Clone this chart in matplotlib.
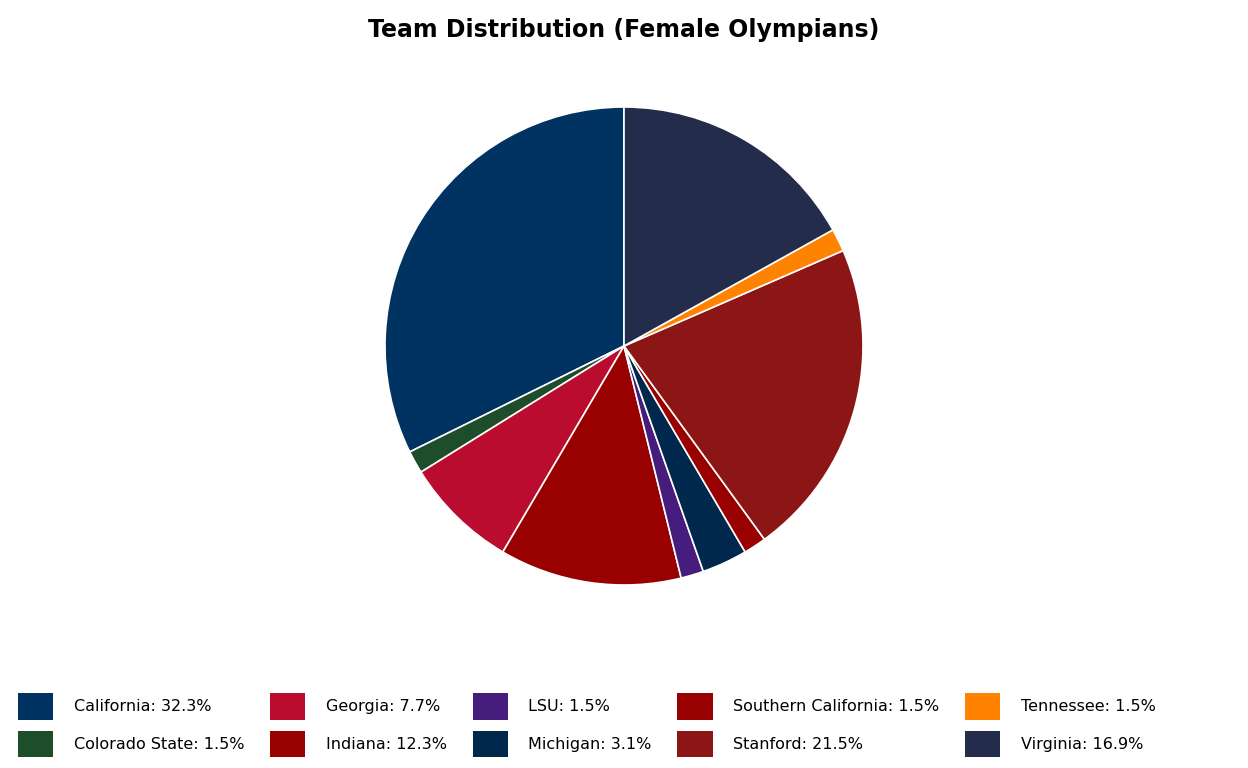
import matplotlib
matplotlib.use("Agg")
import matplotlib.pyplot as plt
from matplotlib.patches import Patch

teams = ["California", "Colorado State", "Georgia", "Indiana", "LSU",
         "Michigan", "Southern California", "Stanford", "Tennessee", "Virginia"]
counts = [21, 1, 5, 8, 1, 2, 1, 14, 1, 11]
colors = ["#003262", "#1E4D2B", "#BA0C2F", "#990000", "#461D7C",
          "#00274C", "#990000", "#8C1515", "#FF8200", "#232D4B"]

total = sum(counts)
labels = [f"{t}: {c / total * 100:.1f}%" for t, c in zip(teams, counts)]

W, H = 1248, 768
fig = plt.figure(figsize=(W / 100, H / 100), dpi=100)
cx, cy, r = 624, 346, 239
ax = fig.add_axes([(cx - r) / W, (H - cy - r) / H, 2 * r / W, 2 * r / H])
ax.pie(counts, colors=colors, startangle=90, counterclock=True,
       wedgeprops=dict(edgecolor="white", linewidth=1.2))
ax.set_xlim(-1, 1)
ax.set_ylim(-1, 1)
ax.set_aspect("equal")
ax.axis("off")

fig.text(0.5, 1 - 30 / H, "Team Distribution (Female Olympians)", ha="center",
         va="center", fontsize=17, fontweight="bold")

handles = [Patch(facecolor=c, edgecolor="none") for c in colors]
fig.legend(handles, labels, loc="lower left", bbox_to_anchor=(0.003, -0.005),
           ncol=5, frameon=False, fontsize=11.5, handlelength=2.2,
           handleheight=2.2, handletextpad=1.3, columnspacing=1.6,
           labelspacing=0.7)

fig.savefig("out.png", dpi=100)
